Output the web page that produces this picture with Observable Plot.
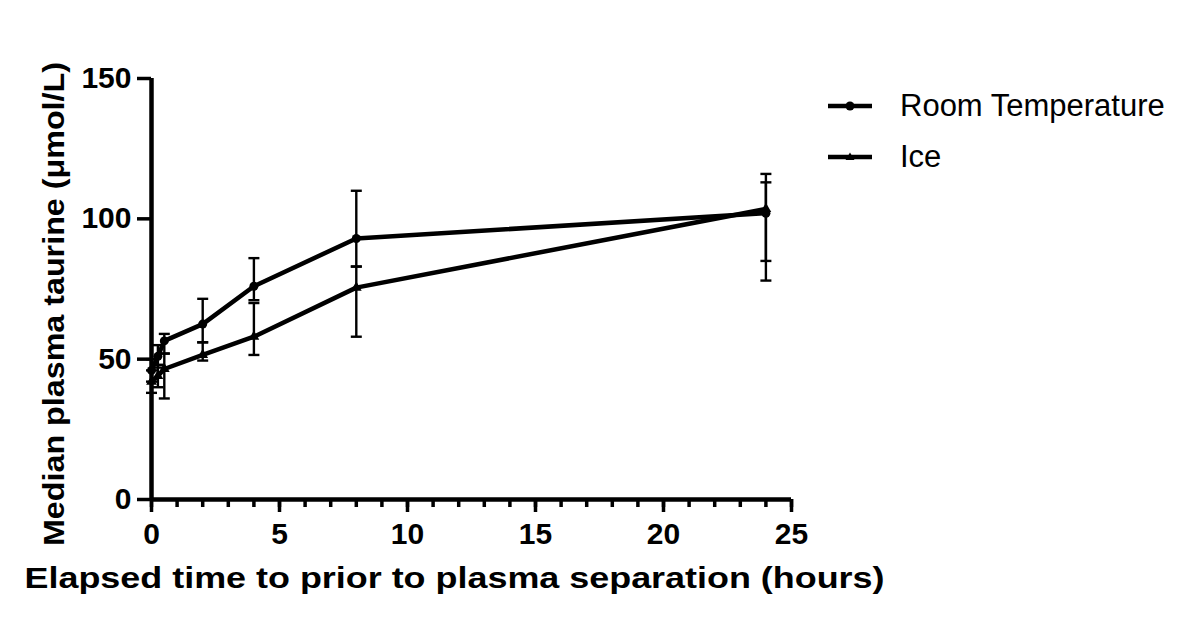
<!DOCTYPE html>
<html>
<head>
<meta charset="utf-8">
<script src="https://cdn.jsdelivr.net/npm/d3@7"></script>
<script src="https://cdn.jsdelivr.net/npm/@observablehq/plot@0.6"></script>
<style>
  html, body { margin: 0; padding: 0; background: #fff; }
  #wrap { position: relative; width: 1200px; height: 633px; font-family: "Liberation Sans", Arial, sans-serif; }
  #legend { position: absolute; left: 826px; top: 80px; }
  .item { display: flex; align-items: center; height: 51px; font-size: 31px; color: #000; }
  .item svg { margin-right: 26px; }
</style>
</head>
<body>
<div id="wrap"><div id="legend"></div></div>
<script>
const times = [0, 0.25, 0.5, 2, 4, 8, 24];
const rtMedian = [46, 51, 56.5, 62.5, 76, 93, 102];
const rtLow    = [42, 47, 52, 56, 71, 83, 85];
const rtHigh   = [50, 55, 59, 71.5, 86, 110, 113];
const iceMedian = [42, 44, 46.5, 51.5, 58, 75.5, 103.5];
const iceLow    = [38, 40, 36, 49.5, 51.5, 58, 78];
const iceHigh   = [46, 48, 52, 56, 70, 83, 116];
const xMajor = [0, 5, 10, 15, 20, 25];
const xMinor = d3.range(0, 26, 1);
const yMajor = [0, 50, 100, 150];
const seriesNames = ["Room Temperature", "Ice"];
const xTitle = "Elapsed time to prior to plasma separation (hours)";
const yTitle = "Median plasma taurine (μmol/L)";

const rows = [];
times.forEach((t, i) => {
  rows.push({series: seriesNames[0], t, m: rtMedian[i], lo: rtLow[i], hi: rtHigh[i]});
  rows.push({series: seriesNames[1], t, m: iceMedian[i], lo: iceLow[i], hi: iceHigh[i]});
});
const rt = rows.filter(d => d.series === seriesNames[0]);
const ice = rows.filter(d => d.series === seriesNames[1]);
const capSymbol = { draw(ctx, size) { const r = 5.5; ctx.moveTo(-r, 0); ctx.lineTo(r, 0); } };
const font = "Liberation Sans, Arial, sans-serif";

const chart = Plot.plot({
  width: 1200,
  height: 633,
  marginLeft: 151,
  marginRight: 409,
  marginTop: 78,
  marginBottom: 134,
  style: { fontFamily: font, background: "#fff", color: "#000", overflow: "visible" },
  x: { domain: [0, 25] },
  y: { domain: [0, 150] },
  marks: [
    Plot.axisX({ticks: xMinor, tickSize: 8, strokeWidth: 3.5, tickFormat: null, text: null, label: null}),
    Plot.axisX({ticks: xMajor, tickSize: 13, tickPadding: 10, strokeWidth: 3.5, tickFormat: d => d, label: null, fontSize: 30, fontWeight: "bold"}),
    Plot.axisY({ticks: yMajor, tickSize: 14, tickPadding: 6, strokeWidth: 3.5, tickFormat: d => d, label: null, fontSize: 30, fontWeight: "bold"}),
    Plot.ruleY([0], {x1: 0, x2: 25, strokeWidth: 4.5}),
    Plot.ruleX([0], {y1: 0, y2: 150, strokeWidth: 4.5}),
    Plot.ruleX(rows, {x: "t", y1: "lo", y2: "hi", strokeWidth: 2.4}),
    Plot.dot(rows, {x: "t", y: "lo", symbol: capSymbol, stroke: "#000", strokeWidth: 2.4}),
    Plot.dot(rows, {x: "t", y: "hi", symbol: capSymbol, stroke: "#000", strokeWidth: 2.4}),
    Plot.line(rt, {x: "t", y: "m", strokeWidth: 4.5}),
    Plot.line(ice, {x: "t", y: "m", strokeWidth: 4.5}),
    Plot.dot(rt, {x: "t", y: "m", r: 4.5, fill: "#000"}),
    Plot.dot(ice, {x: "t", y: "m", symbol: "triangle", r: 4, fill: "#000"}),
    Plot.text([xTitle], {frameAnchor: "bottom", textAnchor: "middle", dx: -17, dy: 88, fontSize: 29, fontWeight: "bold", fill: "#000"}),
    Plot.text([yTitle], {frameAnchor: "left", textAnchor: "middle", dx: -97, dy: 15, rotate: -90, fontSize: 29, fontWeight: "bold", fill: "#000"})
  ]
});
document.getElementById("wrap").prepend(chart);

// stretch the two axis titles to the reference's text lengths
d3.select(chart).selectAll("text").each(function() {
  const s = this.textContent;
  if (s === xTitle) { this.setAttribute("textLength", 860); this.setAttribute("lengthAdjust", "spacingAndGlyphs"); }
  if (s === yTitle) { this.setAttribute("textLength", 484); this.setAttribute("lengthAdjust", "spacingAndGlyphs"); }
});

const legend = document.getElementById("legend");
seriesNames.forEach((name, i) => {
  const item = document.createElement("div");
  item.className = "item";
  const marker = i === 0
    ? '<circle cx="24" cy="10" r="4.5" fill="#000"/>'
    : '<path d="M24,5.5 L28.5,13 L19.5,13 Z" fill="#000"/>';
  item.innerHTML = `<svg width="48" height="20"><line x1="2" x2="46" y1="10" y2="10" stroke="#000" stroke-width="4.5"/>${marker}</svg><span>${name}</span>`;
  legend.appendChild(item);
});
</script>
</body>
</html>
